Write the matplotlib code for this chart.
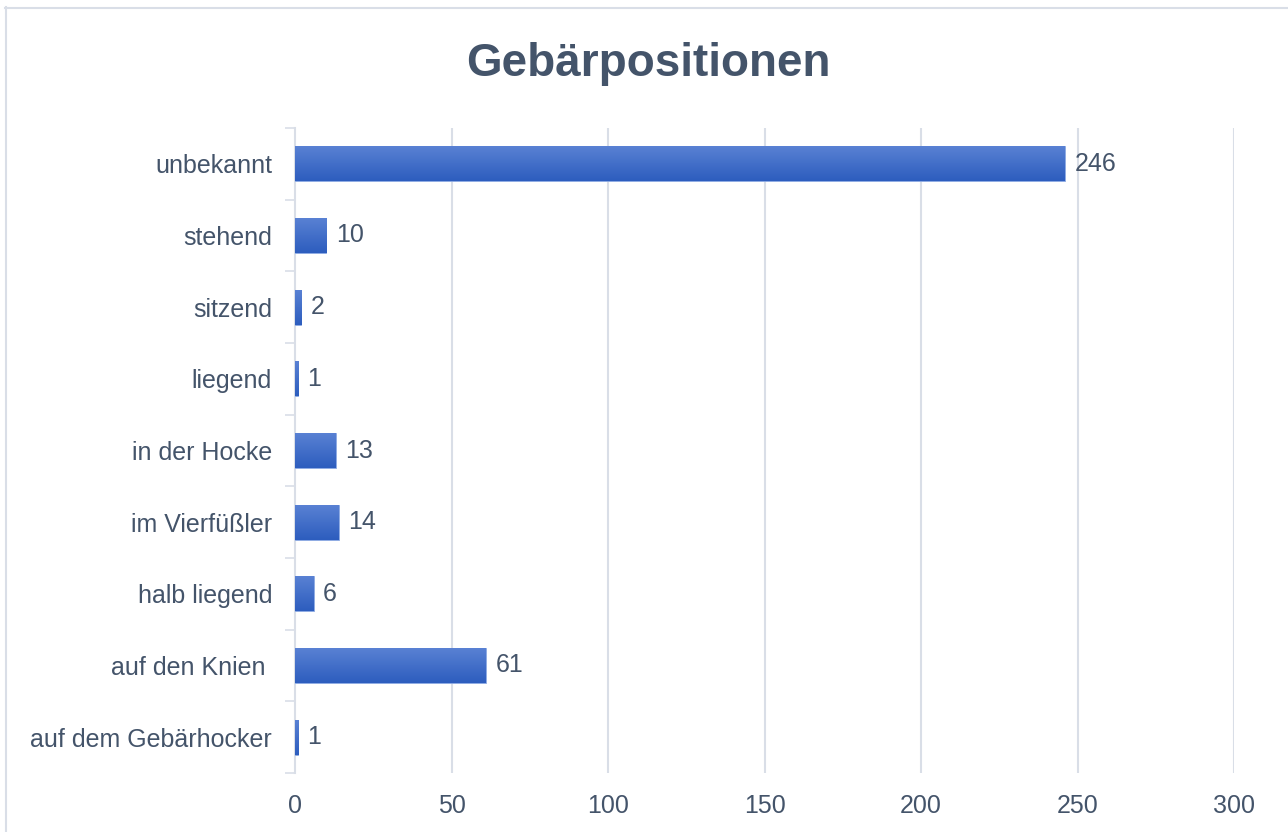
import numpy as np
import matplotlib.pyplot as plt
from matplotlib.lines import Line2D
from matplotlib.colors import LinearSegmentedColormap

plt.rcParams['font.family'] = ['Liberation Sans', 'DejaVu Sans']

categories = ["unbekannt", "stehend", "sitzend", "liegend", "in der Hocke",
              "im Vierfüßler", "halb liegend", "auf den Knien ", "auf dem Gebärhocker"]
values = [246, 10, 2, 1, 13, 14, 6, 61, 1]
xticks = [0, 50, 100, 150, 200, 250, 300]

text_col = "#44546A"
grid_col = "#D9DEE7"

fig = plt.figure(figsize=(12.88, 8.32), dpi=100)
ax = fig.add_axes([295 / 1288, 1 - 773 / 832, (1234 - 295) / 1288, (773 - 128) / 832])

y = np.arange(len(categories))
bars = ax.barh(y, values, height=0.49, color="#3D6BC9", edgecolor="#8EABE3", linewidth=0.6, zorder=3)

# vertical gradient inside each bar
grad = np.linspace(0, 1, 100).reshape(-1, 1)
cmap = LinearSegmentedColormap.from_list("g", ["#5A82D4", "#2D5DBE"])
for b in bars:
    x0, y0, w, h = b.get_x(), b.get_y(), b.get_width(), b.get_height()
    im = ax.imshow(grad, extent=[x0, x0 + w, y0 + h, y0], cmap=cmap, aspect="auto", zorder=4)
    im.set_clip_path(b)

for yi, v in zip(y, values):
    ax.text(v + 3.0, yi, str(v), va="center", ha="left", fontsize=18, color=text_col, zorder=5)

ax.set_xlim(0, 300)
ax.set_ylim(len(categories) - 0.5, -0.5)
ax.set_xticks(xticks)
ax.set_yticks(y)
ax.set_yticklabels(categories)
ax.set_yticks(np.arange(len(categories) + 1) - 0.5, minor=True)
ax.tick_params(axis="y", which="major", length=0, pad=16.5, labelsize=18, labelcolor=text_col)
ax.tick_params(axis="y", which="minor", length=7, width=1.2, color=grid_col)
ax.tick_params(axis="x", length=0, pad=15, labelsize=18, labelcolor=text_col)

for s in ["top", "right", "bottom"]:
    ax.spines[s].set_visible(False)
ax.spines["left"].set_color(grid_col)
ax.spines["left"].set_linewidth(1.5)
for xv in xticks[1:]:
    ax.axvline(xv, color=grid_col, linewidth=1.5, zorder=1)

fig.text(648 / 1288, 1 - 64 / 832, "Gebärpositionen", ha="center", va="center",
         fontsize=33, fontweight="bold", color=text_col)

# chart border (top and left visible)
fig.add_artist(Line2D([5 / 1288, 1.01], [1 - 8 / 832, 1 - 8 / 832], transform=fig.transFigure,
                      color=grid_col, linewidth=1.5))
fig.add_artist(Line2D([6 / 1288, 6 / 1288], [1 - 7 / 832, -0.01], transform=fig.transFigure,
                      color=grid_col, linewidth=1.5))

fig.savefig("out.png", dpi=100)
